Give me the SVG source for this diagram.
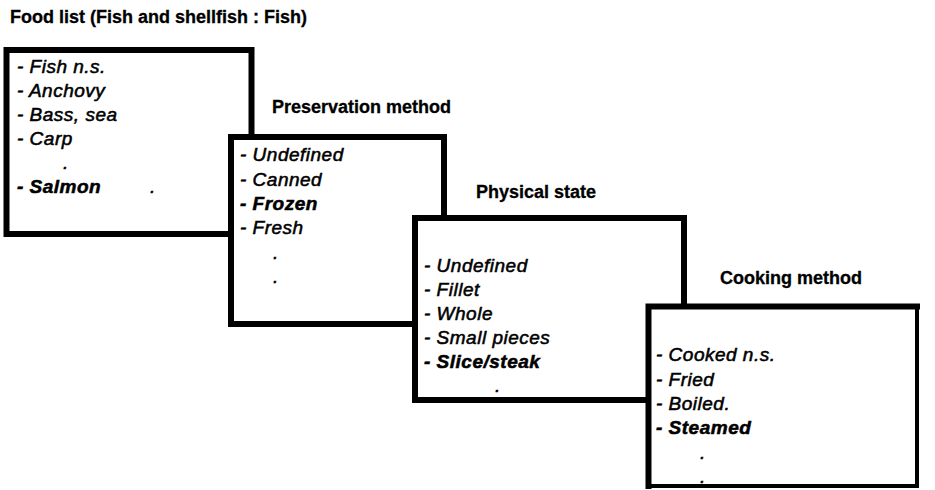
<svg xmlns="http://www.w3.org/2000/svg" width="935" height="490" viewBox="0 0 935 490">
  <style>
    .box { fill: #ffffff; stroke: #000000; stroke-width: 6; }
    .edge { fill: none; stroke: #000000; stroke-linecap: square; }
    .head { font-family: "Liberation Sans", Arial, sans-serif; font-weight: bold; font-size: 18px; fill: #000; stroke: #000; stroke-width: 0.3; }
    .item { font-family: "Liberation Sans", Arial, sans-serif; font-style: italic; font-size: 19px; letter-spacing: 0.5px; fill: #000; stroke: #000; stroke-width: 0.55; }
    .sel { font-weight: bold; }
  </style>
  <rect width="935" height="490" fill="#ffffff"/>

  <!-- food list -->
  <g id="food-list">
    <text class="head" x="10" y="23">Food list (Fish and shellfish : Fish)</text>
    <rect class="box" x="6.5" y="50" width="245" height="184"/>
    <text class="item" x="17" y="73">- Fish n.s.</text>
    <text class="item" x="17" y="97">- Anchovy</text>
    <text class="item" x="17" y="121">- Bass, sea</text>
    <text class="item" x="17" y="145">- Carp</text>
    <text class="item" x="63" y="169">.</text>
    <text class="item sel" x="17" y="193">- Salmon</text>
    <text class="item" x="150" y="193">.</text>
  </g>

  <!-- preservation method -->
  <g id="preservation-method">
    <text class="head" x="272" y="113">Preservation method</text>
    <rect class="box" x="231" y="137" width="213" height="187"/>
    <text class="item" x="240" y="161">- Undefined</text>
    <text class="item" x="240" y="186">- Canned</text>
    <text class="item sel" x="240" y="210">- Frozen</text>
    <text class="item" x="240" y="234">- Fresh</text>
    <text class="item" x="273" y="259">.</text>
    <text class="item" x="273" y="283">.</text>
  </g>

  <!-- physical state -->
  <g id="physical-state">
    <text class="head" x="476" y="198">Physical state</text>
    <rect class="box" x="415" y="218" width="269" height="182"/>
    <text class="item" x="424" y="272">- Undefined</text>
    <text class="item" x="424" y="296">- Fillet</text>
    <text class="item" x="424" y="320">- Whole</text>
    <text class="item" x="424" y="344">- Small pieces</text>
    <text class="item sel" x="424" y="368">- Slice/steak</text>
    <text class="item" x="495" y="392">.</text>
  </g>

  <!-- cooking method -->
  <g id="cooking-method">
    <text class="head" x="720" y="284">Cooking method</text>
    <rect x="648" y="306" width="269" height="180" fill="#ffffff"/>
    <path class="edge" d="M648.5 486 V306.5 H917" stroke-width="6"/>
    <path class="edge" d="M917 306.5 V486 H648.5" stroke-width="4"/>
    <text class="item" x="656" y="361">- Cooked n.s.</text>
    <text class="item" x="656" y="386">- Fried</text>
    <text class="item" x="656" y="410">- Boiled.</text>
    <text class="item sel" x="656" y="434">- Steamed</text>
    <text class="item" x="700" y="459">.</text>
    <text class="item" x="700" y="483">.</text>
  </g>
</svg>
